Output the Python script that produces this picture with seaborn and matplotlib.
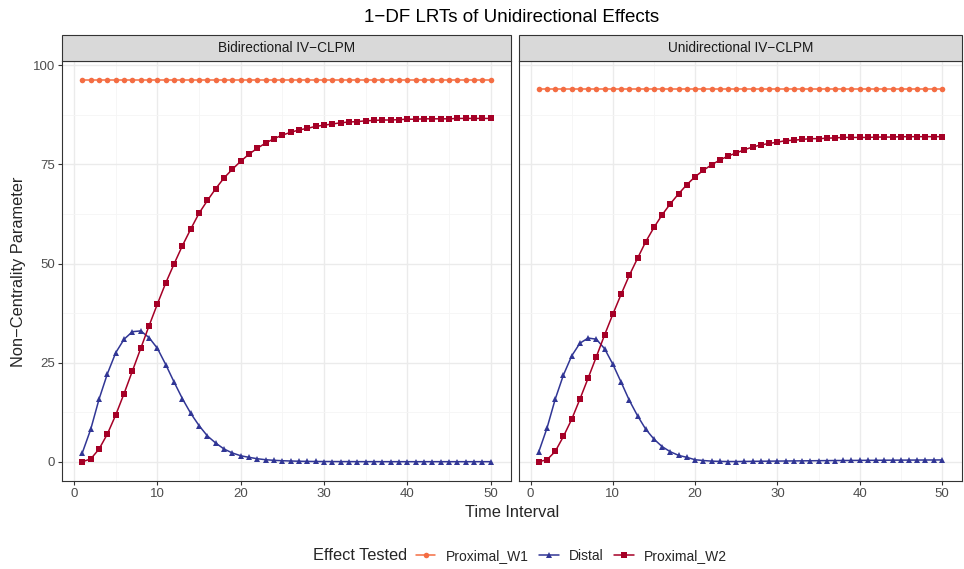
import matplotlib
matplotlib.use("Agg")
import matplotlib.pyplot as plt
import seaborn as sns
import pandas as pd

time_interval = list(range(1, 51))
models = ["Bidirectional IV−CLPM", "Unidirectional IV−CLPM"]
effects = ["Proximal_W1", "Distal", "Proximal_W2"]

# Bidirectional panel
bi_w1 = [96.3] * 50
bi_distal = [2.3, 8.2, 15.8, 22.2, 27.5, 30.9, 32.8, 33.0, 31.3, 28.6,
             24.5, 20.1, 15.9, 12.2, 9.1, 6.5, 4.7, 3.2, 2.2, 1.5,
             1.1, 0.75, 0.5, 0.35, 0.25, 0.18, 0.12, 0.08, 0.06, 0.05,
             0.04, 0.03, 0.03, 0.02, 0.02, 0.02, 0.01, 0.01, 0.01, 0.01,
             0.01, 0.01, 0.01, 0.01, 0.01, 0.01, 0.01, 0.01, 0.01, 0.01]
bi_w2 = [0.0, 0.7, 3.2, 7.0, 11.8, 17.2, 22.9, 28.6, 34.3, 39.8,
         45.1, 49.9, 54.5, 58.7, 62.7, 65.9, 68.9, 71.6, 73.8, 75.8,
         77.6, 79.1, 80.4, 81.5, 82.4, 83.1, 83.7, 84.1, 84.6, 84.9,
         85.2, 85.5, 85.7, 85.8, 86.0, 86.1, 86.2, 86.2, 86.3, 86.4,
         86.4, 86.5, 86.5, 86.5, 86.5, 86.6, 86.6, 86.6, 86.6, 86.6]

# Unidirectional panel
uni_w1 = [94.0] * 50
uni_distal = [2.5, 8.5, 15.8, 21.9, 26.7, 29.9, 31.2, 30.9, 28.5, 24.6,
              20.1, 15.5, 11.6, 8.2, 5.7, 3.8, 2.5, 1.6, 1.1, 0.5,
              0.3, 0.15, 0.08, 0.05, 0.05, 0.07, 0.1, 0.12, 0.14, 0.16,
              0.18, 0.2, 0.22, 0.24, 0.26, 0.28, 0.3, 0.31, 0.32, 0.34,
              0.35, 0.36, 0.38, 0.39, 0.4, 0.41, 0.42, 0.43, 0.44, 0.45]
uni_w2 = [0.0, 0.5, 2.6, 6.4, 10.7, 15.8, 21.1, 26.5, 32.0, 37.2,
          42.2, 47.0, 51.3, 55.5, 59.1, 62.3, 65.1, 67.6, 69.9, 71.9,
          73.5, 74.9, 76.1, 77.1, 77.9, 78.7, 79.4, 79.9, 80.3, 80.6,
          81.0, 81.1, 81.3, 81.5, 81.5, 81.6, 81.7, 81.8, 81.8, 81.8,
          81.8, 81.9, 81.9, 81.9, 82.0, 82.0, 82.0, 82.0, 82.0, 82.0]

series = {
    models[0]: [bi_w1, bi_distal, bi_w2],
    models[1]: [uni_w1, uni_distal, uni_w2],
}

rows = []
for model in models:
    for eff, vals in zip(effects, series[model]):
        for t, v in zip(time_interval, vals):
            rows.append({"model": model, "effect": eff, "time": t, "ncp": v})
df = pd.DataFrame(rows)

palette = {"Proximal_W1": "#F46D43", "Distal": "#313695", "Proximal_W2": "#A50026"}
markers = {"Proximal_W1": "o", "Distal": "^", "Proximal_W2": "s"}
msize = {"Proximal_W1": 4, "Distal": 4.5, "Proximal_W2": 4.2}

sns.set_theme(style="white")
plt.rcParams["font.family"] = ["Liberation Sans", "DejaVu Sans"]

fig = plt.figure(figsize=(9.64, 5.69), dpi=100)
axes = [fig.add_axes([0.0643, 0.155, 0.466, 0.738]),
        fig.add_axes([0.538, 0.155, 0.460, 0.738])]

for i, (ax, model) in enumerate(zip(axes, models)):
    sub = df[df["model"] == model]
    for eff in effects:
        d = sub[sub["effect"] == eff]
        sns.lineplot(data=d, x="time", y="ncp", ax=ax, color=palette[eff],
                     marker=markers[eff], markersize=msize[eff], markeredgewidth=0,
                     linewidth=1.1, label=eff, legend=False)
    ax.set_xlim(-1.45, 52.45)
    ax.set_ylim(-4.815, 101.115)
    ax.set_xticks([0, 10, 20, 30, 40, 50])
    ax.set_xticks([5, 15, 25, 35, 45], minor=True)
    ax.set_yticks([0, 25, 50, 75, 100])
    ax.set_yticks([12.5, 37.5, 62.5, 87.5], minor=True)
    ax.grid(True, which="major", color="#EBEBEB", linewidth=1.0)
    ax.grid(True, which="minor", color="#F5F5F5", linewidth=0.6)
    ax.set_axisbelow(True)
    for s in ax.spines.values():
        s.set_color("#333333")
        s.set_linewidth(0.8)
    ax.tick_params(axis="both", which="major", length=3, width=0.8, color="#333333",
                   labelsize=9.5, labelcolor="#4D4D4D", bottom=True, left=True, pad=2)
    ax.tick_params(which="minor", length=0)
    ax.set_xlabel("")
    ax.set_ylabel("")
    if i == 1:
        ax.tick_params(axis="y", left=False, labelleft=False)

# facet strips
for ax, model in zip(axes, models):
    pos = ax.get_position()
    h = 26 / 569
    rect = plt.Rectangle((pos.x0, pos.y1), pos.width, h, transform=fig.transFigure,
                         facecolor="#D9D9D9", edgecolor="#333333", linewidth=0.8)
    fig.add_artist(rect)
    fig.text(pos.x0 + pos.width / 2, pos.y1 + h / 2, model, ha="center", va="center",
             fontsize=9.8, color="#1A1A1A")

fig.text(0.531, 0.970, "1−DF LRTs of Unidirectional Effects", ha="center", va="center",
         fontsize=13.5, color="black")
fig.text(0.531, 0.100, "Time Interval", ha="center", va="center", fontsize=11.8)
fig.text(0.019, 0.523, "Non−Centrality Parameter", ha="center", va="center",
         rotation=90, fontsize=11.8)

handles, labels = axes[0].get_legend_handles_labels()
fig.text(0.325, 0.023, "Effect Tested", ha="left", va="center", fontsize=11.8)
fig.legend(handles, labels, loc="center left", bbox_to_anchor=(0.4315, 0.023), ncol=3,
           frameon=False, fontsize=10, handlelength=1.4, handletextpad=0.75,
           columnspacing=0.75, borderaxespad=0, borderpad=0)

fig.savefig("out.png", dpi=100)
